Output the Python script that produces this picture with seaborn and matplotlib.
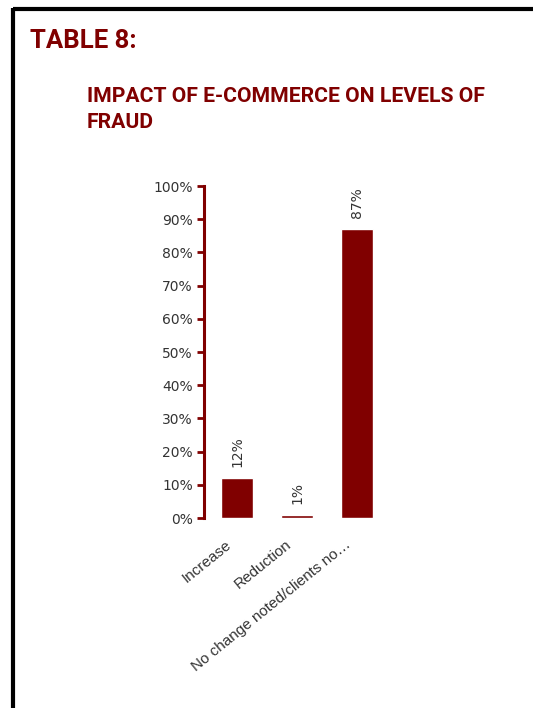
import matplotlib
matplotlib.use("Agg")
import matplotlib.pyplot as plt
import matplotlib.lines as mlines
import matplotlib.transforms as mtransforms
from matplotlib.ticker import PercentFormatter
import seaborn as sns
import pandas as pd

# Survey responses
categories = ["Increase", "Reduction", "No change noted/clients no…"]
shares = [12, 1, 87]
yticks = [0, 10, 20, 30, 40, 50, 60, 70, 80, 90, 100]

title = "TABLE 8:"
subtitle_lines = ["IMPACT OF E-COMMERCE ON LEVELS OF", "FRAUD"]

MAROON = "#800000"
TEXT_GREY = "#333333"

sns.set_style("white")
plt.rcParams["font.family"] = ["DejaVu Sans"]

W, H = 533, 708
fig = plt.figure(figsize=(W / 100, H / 100), dpi=100)

def px_axes(left, top, right, bottom):
    return fig.add_axes([left / W, 1 - bottom / H, (right - left) / W, (bottom - top) / H])

ax = px_axes(204, 186, 390, 518)

df = pd.DataFrame({"category": categories, "share": shares})
sns.barplot(data=df, x="category", y="share", color=MAROON, saturation=1,
            width=0.53, ax=ax)

ax.set_ylim(0, 100)
ax.set_xlim(-0.55, 2.55)
ax.set_yticks(yticks)
ax.yaxis.set_major_formatter(PercentFormatter(decimals=0))
ax.set_xlabel("")
ax.set_ylabel("")

for s in ["top", "right", "bottom"]:
    ax.spines[s].set_visible(False)
ax.spines["left"].set_color(MAROON)
ax.spines["left"].set_linewidth(2.2)

ax.tick_params(axis="y", which="major", direction="out", length=5, width=2,
               color=MAROON, labelcolor=TEXT_GREY, labelsize=10, pad=3, left=True)
ax.tick_params(axis="x", length=0, labelcolor=TEXT_GREY, pad=14)
shift = mtransforms.ScaledTranslation(-12 / 100, 0, fig.dpi_scale_trans)
for lbl in ax.get_xticklabels():
    lbl.set_rotation(39)
    lbl.set_ha("right")
    lbl.set_rotation_mode("anchor")
    lbl.set_fontfamily(["Liberation Sans", "DejaVu Sans"])
    lbl.set_fontsize(11)
    lbl.set_transform(lbl.get_transform() + shift)

for bar, v in zip(ax.patches, shares):
    ax.annotate(f"{v}%", (bar.get_x() + bar.get_width() / 2, bar.get_height()),
                xytext=(0, 8), textcoords="offset points", rotation=90,
                ha="center", va="bottom", color=TEXT_GREY, fontsize=10)

head_font = ["Roboto", "Liberation Sans", "DejaVu Sans"]
fig.text(30 / W, 1 - 47.5 / H, title, fontsize=18.5, fontweight="bold",
         color=MAROON, family=head_font, ha="left", va="baseline")
for line, base in zip(subtitle_lines, [101.5, 128]):
    fig.text(87 / W, 1 - base / H, line, fontsize=15.2, fontweight="bold",
             color=MAROON, family=head_font, ha="left", va="baseline")

# Frame lines along the top and left edge
fig.add_artist(mlines.Line2D([13 / W, 1], [1 - 9 / H, 1 - 9 / H], color="black",
                             linewidth=3, transform=fig.transFigure, solid_capstyle="butt"))
fig.add_artist(mlines.Line2D([13 / W, 13 / W], [1 - 7.5 / H, 0], color="black",
                             linewidth=3, transform=fig.transFigure, solid_capstyle="butt"))

fig.savefig("out.png", dpi=100)
